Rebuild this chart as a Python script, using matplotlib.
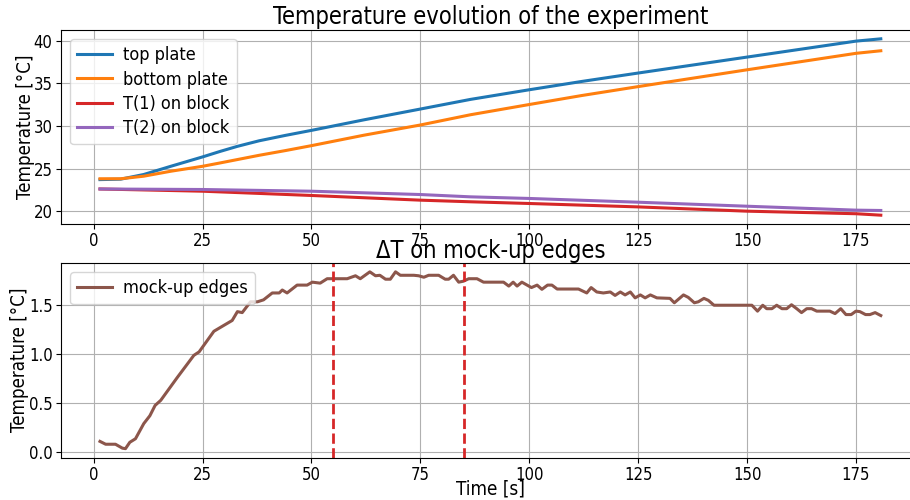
import matplotlib
matplotlib.use("Agg")
import matplotlib.pyplot as plt

plt.rcParams['font.family'] = ['DejaVu Sans']
plt.rcParams['font.stretch'] = 'condensed'

# ---- data ----
t_plates = [1.45, 6.2, 11.5, 17.7, 25, 29, 33, 38, 44, 50, 62, 75, 86.5, 100, 112, 125, 150, 175, 180.7]
top_plate = [23.7, 23.75, 24.3, 25.26, 26.36, 27.0, 27.6, 28.25, 28.88, 29.47, 30.7, 31.97, 33.1, 34.23, 35.2, 36.19, 38.06, 39.93, 40.2]
bottom_plate = [23.8, 23.8, 24.1, 24.68, 25.26, 25.65, 26.05, 26.55, 27.1, 27.68, 28.9, 30.1, 31.3, 32.5, 33.55, 34.6, 36.57, 38.5, 38.8]

t_block = [1.45, 25, 50, 75, 86.5, 100, 125, 150, 175, 180.7]
T1_block = [22.6, 22.34, 21.84, 21.29, 21.1, 20.9, 20.5, 20.0, 19.7, 19.53]
T2_block = [22.6, 22.54, 22.34, 21.95, 21.68, 21.49, 21.05, 20.58, 20.12, 20.08]

t_edges = [1.45, 2.75, 5.0, 6.6, 7.3, 8.3, 9.6, 11.5, 12.9, 14.1, 15.4, 19.2, 23.0, 24.2,
           27.6, 29.5, 31.8, 33.0, 34.1, 36.0, 37.6, 39.0, 41.0, 42.6, 43.3, 44.4, 46.7,
           49.0, 50.2, 52.0, 53.6, 58.2, 60.1, 61.2, 63.4, 64.7, 65.7, 67.0, 68.1, 69.3,
           70.4, 73.5, 74.6, 75.8, 76.9, 79.2, 80.7, 81.5, 82.6, 83.8, 84.9, 86.1, 88.0,
           89.5, 94.1, 95.3, 96.3, 97.2, 98.3, 100.5, 101.8, 102.9, 104.2, 105.2, 106.4,
           111.3, 113.2, 114.2, 115.5, 117.0, 118.6, 119.7, 120.9, 122.0, 123.2, 124.3,
           125.5, 126.6, 127.8, 129.3, 132.3, 133.3, 135.4, 136.5, 137.9, 138.8, 140.1,
           141.1, 142.4, 151.1, 152.4, 153.6, 154.5, 155.7, 156.8, 158.0, 159.1, 160.2,
           161.4, 162.5, 163.7, 164.8, 166.0, 169.0, 170.2, 171.5, 172.7, 173.9, 175.0,
           175.9, 177.2, 178.2, 179.4, 180.7]
dT_edges = [0.109, 0.08, 0.08, 0.04, 0.035, 0.10, 0.136, 0.29, 0.37, 0.475, 0.527, 0.76,
            0.985, 1.02, 1.23, 1.28, 1.34, 1.43, 1.42, 1.53, 1.53, 1.55, 1.62, 1.62, 1.65,
            1.62, 1.70, 1.70, 1.73, 1.72, 1.765, 1.765, 1.795, 1.765, 1.835, 1.795, 1.80,
            1.76, 1.76, 1.835, 1.80, 1.80, 1.795, 1.78, 1.80, 1.80, 1.76, 1.76, 1.80, 1.73,
            1.74, 1.765, 1.765, 1.73, 1.73, 1.69, 1.73, 1.69, 1.73, 1.675, 1.70, 1.657,
            1.70, 1.70, 1.66, 1.66, 1.62, 1.675, 1.63, 1.62, 1.63, 1.595, 1.63, 1.60, 1.63,
            1.57, 1.60, 1.57, 1.60, 1.57, 1.565, 1.52, 1.60, 1.575, 1.52, 1.53, 1.565, 1.545,
            1.495, 1.495, 1.435, 1.495, 1.46, 1.46, 1.495, 1.46, 1.46, 1.50, 1.46, 1.42,
            1.46, 1.46, 1.435, 1.435, 1.41, 1.46, 1.40, 1.40, 1.435, 1.43, 1.40, 1.40, 1.42,
            1.39]

markers_t = [55, 85]

# ---- figure ----
fig = plt.figure(figsize=(9.1, 5.0), dpi=100)
W, H = 910, 500
def pos(l, r, t, b):
    return [l / W, 1 - b / H, (r - l) / W, (b - t) / H]

ax1 = fig.add_axes(pos(61, 920, 30, 224))
ax2 = fig.add_axes(pos(61, 920, 263, 457.5))

fs_tick = 12
fs_lab = 13.4
fs_title = 17
fs_leg = 13
leg_kw = dict(loc="upper left", fontsize=fs_leg, labelspacing=0.35,
              handlelength=1.9, handletextpad=0.66)

ax1.plot(t_plates, top_plate, color="tab:blue", lw=2.2, label="top plate")
ax1.plot(t_plates, bottom_plate, color="tab:orange", lw=2.2, label="bottom plate")
ax1.plot(t_block, T1_block, color="tab:red", lw=2.2, label="T(1) on block")
ax1.plot(t_block, T2_block, color="tab:purple", lw=2.2, label="T(2) on block")
ax1.set_title("Temperature evolution of the experiment", fontsize=fs_title, pad=4)
ax1.set_ylabel("Temperature [°C]", fontsize=fs_lab, labelpad=-1)
ax1.grid(True)
ax1.tick_params(labelsize=fs_tick, pad=2.5)
ax1.legend(**leg_kw)

ax2.plot(t_edges, dT_edges, color="tab:brown", lw=2.2, label="mock-up edges")
for m in markers_t:
    ax2.axvline(m, color="tab:red", ls="--", lw=2)
ax2.set_title("ΔT on mock-up edges", fontsize=fs_title, pad=2)
ax2.set_ylabel("Temperature [°C]", fontsize=fs_lab, labelpad=0)
ax2.set_xlabel("Time [s]", fontsize=13.5, labelpad=-3)
ax2.grid(True)
ax2.tick_params(labelsize=fs_tick, pad=2.5)
ax2.legend(**leg_kw)
ax2.set_yticks([0.0, 0.5, 1.0, 1.5])

for ax in (ax1, ax2):
    ax.set_xlim(-7.5, 189.7)

fig.savefig("out.png", dpi=100)
